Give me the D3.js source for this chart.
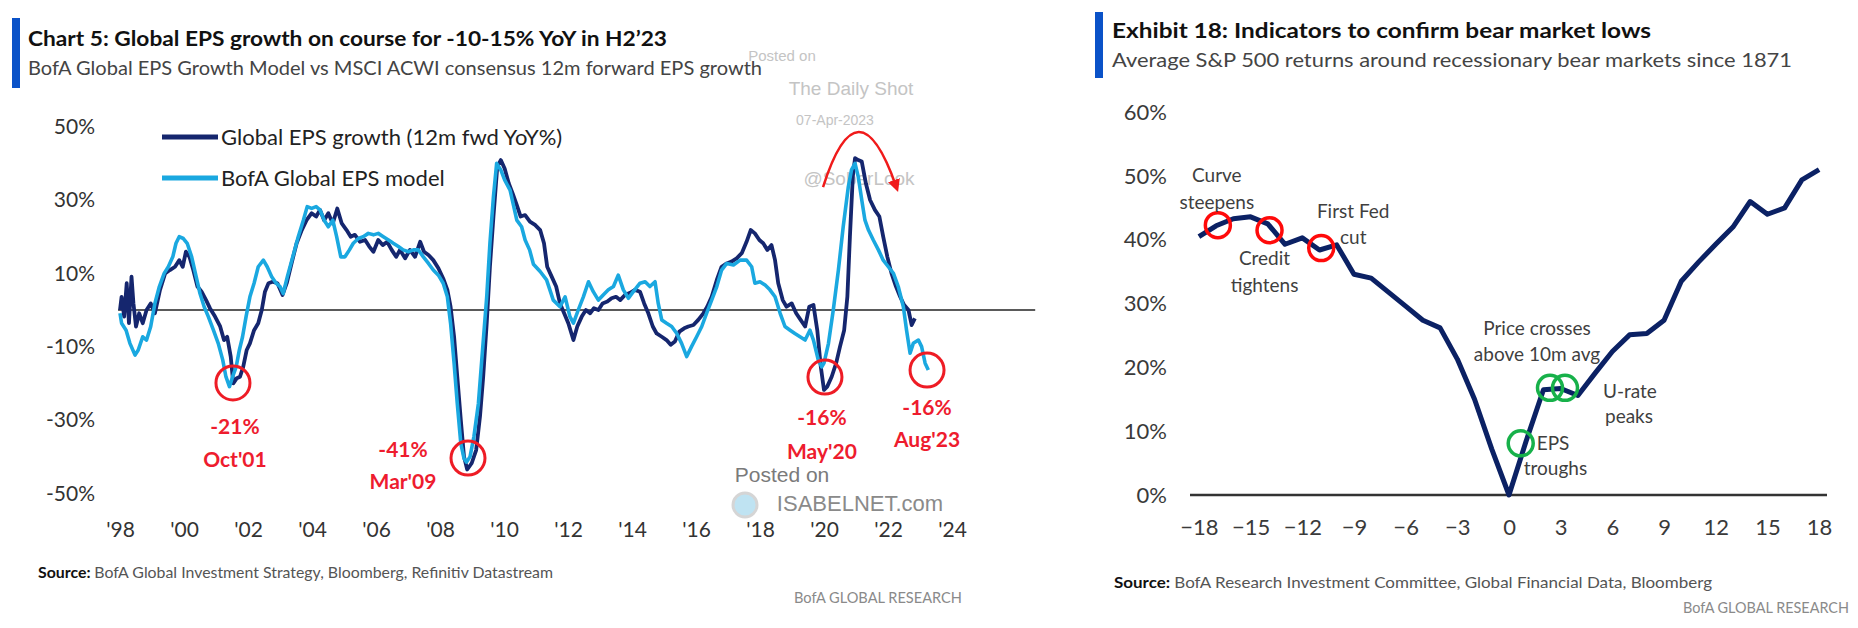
<!DOCTYPE html>
<html><head><meta charset="utf-8">
<script src="https://cdn.jsdelivr.net/npm/d3@7"></script>
<style>
html,body{margin:0;padding:0;background:#fff;}
svg{display:block;font-family:Lato,"Open Sans",sans-serif;}
</style></head><body>
<svg id="chart" width="1858" height="628"></svg>
<script>
// ---------------- LEFT CHART DATA ----------------
const epsDates = [1998.00,1998.05,1998.13,1998.21,1998.28,1998.36,1998.42,1998.50,1998.60,1998.71,1998.83,1998.96,1999.09,1999.25,1999.41,1999.56,1999.72,1999.85,1999.96,2000.06,2000.17,2000.29,2000.42,2000.55,2000.69,2000.81,2000.97,2001.13,2001.25,2001.35,2001.46,2001.54,2001.65,2001.75,2001.85,2001.96,2002.06,2002.19,2002.32,2002.43,2002.53,2002.64,2002.77,2002.92,2003.08,2003.21,2003.36,2003.52,2003.68,2003.83,2003.99,2004.13,2004.25,2004.38,2004.51,2004.65,2004.79,2004.93,2005.08,2005.21,2005.34,2005.50,2005.66,2005.79,2005.92,2006.07,2006.21,2006.35,2006.49,2006.63,2006.75,2006.91,2007.06,2007.22,2007.38,2007.50,2007.64,2007.79,2007.95,2008.10,2008.23,2008.33,2008.44,2008.54,2008.65,2008.75,2008.85,2008.99,2009.13,2009.25,2009.35,2009.46,2009.56,2009.67,2009.79,2009.90,2010.02,2010.15,2010.27,2010.40,2010.52,2010.66,2010.81,2010.97,2011.13,2011.25,2011.35,2011.49,2011.63,2011.75,2011.88,2012.01,2012.17,2012.29,2012.43,2012.56,2012.69,2012.81,2012.95,2013.08,2013.23,2013.36,2013.50,2013.63,2013.78,2013.94,2014.09,2014.25,2014.38,2014.51,2014.65,2014.77,2014.93,2015.08,2015.21,2015.34,2015.48,2015.63,2015.76,2015.92,2016.07,2016.23,2016.35,2016.49,2016.65,2016.80,2016.96,2017.11,2017.27,2017.43,2017.58,2017.71,2017.84,2017.98,2018.10,2018.23,2018.36,2018.47,2018.57,2018.71,2018.83,2018.99,2019.13,2019.27,2019.41,2019.54,2019.67,2019.79,2019.90,2020.00,2020.10,2020.24,2020.38,2020.50,2020.63,2020.73,2020.81,2020.90,2020.97,2021.07,2021.18,2021.31,2021.44,2021.59,2021.73,2021.85,2021.98,2022.11,2022.25,2022.38,2022.50,2022.64,2022.74,2022.84];
const epsValues = [0.0,3.6,-1.8,7.3,-3.6,9.1,1.8,-4.5,-0.9,-3.6,0.0,1.8,-0.9,5.5,10.0,10.9,11.8,13.6,11.8,15.9,14.5,10.9,6.4,5.0,2.7,0.5,-1.8,-4.5,-8.2,-7.3,-12.7,-20.0,-18.6,-18.2,-15.5,-10.9,-9.1,-5.5,-3.6,0.0,5.0,7.3,7.7,7.3,4.1,7.3,12.7,18.2,21.8,24.5,26.4,25.5,27.3,24.5,26.4,23.6,27.7,23.6,21.8,20.0,20.5,18.6,19.1,17.3,15.9,19.1,17.7,18.6,16.4,14.5,16.4,14.1,16.4,14.5,18.6,15.9,15.0,13.6,11.4,8.6,5.5,0.9,-7.3,-18.2,-30.0,-40.0,-43.5,-41.8,-38.2,-29.0,-18.2,-3.6,11.8,25.5,39.1,40.9,38.6,34.5,31.8,28.6,25.5,25.9,24.1,23.2,21.8,18.2,11.8,9.1,6.4,1.8,-0.9,-3.6,-8.2,-4.5,-1.8,0.0,-0.9,0.5,0.0,1.8,2.3,3.2,3.6,2.7,4.1,4.7,5.5,5.0,1.8,-0.9,-4.5,-6.4,-7.3,-8.2,-9.5,-8.6,-5.9,-5.0,-4.5,-4.1,-2.7,-0.9,0.9,3.6,8.2,11.8,12.7,13.2,14.1,15.5,18.6,21.8,20.9,19.1,18.2,16.4,17.7,13.6,7.3,2.7,0.9,1.8,-0.9,-2.7,-4.5,0.9,1.4,-5.5,-15.5,-21.8,-20.9,-18.2,-14.5,-10.0,-5.5,3.6,20.0,36.4,41.4,40.9,40.5,34.5,30.0,27.3,25.5,20.0,14.5,10.0,6.4,3.6,1.4,0.0,-4.1,-2.3];

const modelDates = [1998.00,1998.05,1998.19,1998.31,1998.47,1998.57,1998.71,1998.83,1998.96,1999.09,1999.23,1999.38,1999.51,1999.65,1999.75,1999.85,1999.98,2000.10,2000.24,2000.38,2000.50,2000.63,2000.76,2000.92,2001.07,2001.21,2001.31,2001.42,2001.52,2001.63,2001.73,2001.83,2001.94,2002.06,2002.19,2002.32,2002.48,2002.60,2002.74,2002.88,2003.00,2003.10,2003.23,2003.40,2003.57,2003.73,2003.85,2003.99,2004.13,2004.25,2004.38,2004.51,2004.65,2004.77,2004.90,2005.03,2005.17,2005.29,2005.45,2005.60,2005.76,2005.92,2006.07,2006.23,2006.39,2006.54,2006.70,2006.85,2007.01,2007.17,2007.32,2007.48,2007.64,2007.79,2007.95,2008.10,2008.23,2008.33,2008.44,2008.54,2008.65,2008.75,2008.83,2008.94,2009.06,2009.20,2009.33,2009.46,2009.56,2009.67,2009.77,2009.90,2010.02,2010.19,2010.40,2010.55,2010.66,2010.80,2010.92,2011.13,2011.33,2011.54,2011.75,2011.91,2012.06,2012.17,2012.32,2012.48,2012.64,2012.79,2012.95,2013.10,2013.26,2013.42,2013.57,2013.73,2013.89,2014.04,2014.25,2014.41,2014.56,2014.72,2014.82,2014.93,2015.08,2015.24,2015.40,2015.55,2015.71,2015.86,2016.02,2016.18,2016.33,2016.49,2016.65,2016.80,2016.96,2017.17,2017.38,2017.58,2017.74,2017.84,2018.00,2018.16,2018.31,2018.47,2018.63,2018.78,2018.94,2019.09,2019.25,2019.41,2019.56,2019.67,2019.82,2019.93,2020.00,2020.14,2020.29,2020.45,2020.60,2020.76,2020.86,2020.97,2021.07,2021.18,2021.28,2021.39,2021.54,2021.70,2021.85,2022.01,2022.17,2022.32,2022.48,2022.58,2022.69,2022.79,2022.95,2023.05,2023.16,2023.26];
const modelValues = [-0.9,-3.6,-5.5,-9.1,-12.3,-10.9,-7.3,-8.2,-4.5,1.8,6.4,10.0,11.8,14.5,18.2,20.0,19.5,18.2,14.5,9.1,4.5,0.9,-1.8,-5.5,-9.1,-13.6,-18.2,-20.9,-18.2,-15.5,-10.9,-7.3,-1.8,3.6,7.3,11.8,13.6,11.8,9.1,7.3,6.4,4.5,9.1,14.5,20.0,24.5,28.2,27.7,28.2,27.3,24.5,22.7,24.5,20.0,14.5,14.5,16.4,18.2,19.5,20.0,20.9,20.5,20.9,20.0,19.1,18.2,17.3,16.4,15.9,16.4,16.4,14.5,12.7,10.9,9.5,7.3,3.6,-3.6,-14.5,-25.5,-36.4,-40.5,-41.5,-40.0,-34.5,-25.5,-10.9,3.6,18.2,30.9,40.0,38.2,35.5,32.7,24.5,22.7,19.1,16.4,12.5,10.5,8.2,2.7,0.9,3.6,-1.8,-3.6,0.0,3.6,7.7,5.0,2.7,4.1,5.5,6.4,9.5,5.5,3.2,5.0,7.3,7.7,6.4,7.7,1.8,-2.7,-3.6,-4.5,-6.4,-9.1,-12.7,-10.0,-7.3,-4.5,-0.9,2.7,6.4,10.9,12.7,12.3,13.6,13.6,11.8,7.3,7.7,6.8,5.5,3.6,-0.9,-4.5,-5.5,-6.4,-7.3,-8.2,-5.5,-8.2,-13.6,-15.5,-14.5,-9.1,0.0,10.9,22.7,33.6,38.2,40.0,36.4,30.0,24.5,21.8,19.1,16.4,13.6,11.8,10.0,6.4,0.9,-5.5,-11.8,-9.1,-8.2,-10.0,-14.5,-16.4];

const leftYTicks = [50, 30, 10, -10, -30, -50];
const leftXTicks = [1998,2000,2002,2004,2006,2008,2010,2012,2014,2016,2018,2020,2022,2024];
const leftXLabels = ["'98","'00","'02","'04","'06","'08","'10","'12","'14","'16","'18","'20","'22","'24"];
const seriesNames = ["Global EPS growth (12m fwd YoY%)", "BofA Global EPS model"];
const troughDates = [2001.53, 2008.875, 2020.03, 2023.22];
const troughValues = [-19.9, -40.4, -18.3, -16.4];
const troughPct = ["-21%", "-41%", "-16%", "-16%"];
const troughMonth = ["Oct'01", "Mar'09", "May'20", "Aug'23"];

// ---------------- RIGHT CHART DATA ----------------
const months = [-18,-17,-16,-15,-14,-13,-12,-11,-10,-9,-8,-7,-6,-5,-4,-3,-2,-1,0,1,2,3,4,5,6,7,8,9,10,11,12,13,14,15,16,17,18];
const spxReturns = [40.5,42.2,43.3,43.6,42.5,39.3,40.3,38.4,39.2,34.6,34.0,31.8,29.6,27.4,26.2,21.3,15.0,7.2,0.0,8.5,16.5,16.7,15.6,19.1,22.5,25.1,25.3,27.4,33.5,36.5,39.3,42.0,46.0,44.0,45.0,49.4,51.0];
const rightYTicks = [0,10,20,30,40,50,60];
const rightXTicks = [-18,-15,-12,-9,-6,-3,0,3,6,9,12,15,18];
const redMarkMonths = [-16.9, -13.9, -10.9];
const redMarkValues = [42.3, 41.5, 38.7];
const greenMarkMonths = [0.68, 2.38, 3.25];
const greenMarkValues = [8.1, 16.8, 16.8];

// ---------------- DRAW ----------------
const svg = d3.select("#chart");
svg.append("rect").attr("width",1858).attr("height",628).attr("fill","#fff");

function fitText(sel, w){ sel.attr("textLength", w).attr("lengthAdjust","spacingAndGlyphs"); return sel; }

// Titles
svg.append("rect").attr("x",12).attr("y",18).attr("width",8).attr("height",70).attr("fill","#0a52c8");
fitText(svg.append("text").attr("x",28).attr("y",46).attr("font-size",21).attr("font-weight",700).attr("fill","#111")
  .text("Chart 5: Global EPS growth on course for -10-15% YoY in H2\u201923"), 639);
fitText(svg.append("text").attr("x",28).attr("y",75).attr("font-size",19).attr("fill","#444")
  .text("BofA Global EPS Growth Model vs MSCI ACWI consensus 12m forward EPS growth"), 734);

svg.append("rect").attr("x",1095).attr("y",12).attr("width",8).attr("height",66).attr("fill","#0a52c8");
fitText(svg.append("text").attr("x",1112).attr("y",38).attr("font-size",21).attr("font-weight",700).attr("fill","#111")
  .text("Exhibit 18: Indicators to confirm bear market lows"), 539);
fitText(svg.append("text").attr("x",1112).attr("y",67).attr("font-size",19).attr("fill","#444")
  .text("Average S&P 500 returns around recessionary bear markets since 1871"), 680);

// Watermarks (left)
const wm = svg.append("g").attr("font-family","'Liberation Sans',Arial,sans-serif").attr("fill","#c4c4c4").attr("text-anchor","middle");
wm.append("text").attr("x",782).attr("y",61).attr("font-size",15).text("Posted on");
wm.append("text").attr("x",851).attr("y",95).attr("font-size",19).text("The Daily Shot");
wm.append("text").attr("x",835).attr("y",125).attr("font-size",14).text("07-Apr-2023");
wm.append("text").attr("x",859).attr("y",185).attr("font-size",19).text("@SoberLook");

// LEFT scales
const xL = d3.scaleLinear().domain([1998, 2024]).range([120, 952]);
const yL = d3.scaleLinear().domain([-50, 50]).range([493.3, 126.7]);

const ax1 = svg.append("g").attr("transform","translate(95,0)")
  .call(d3.axisLeft(yL).tickValues(leftYTicks).tickSize(0).tickPadding(0).tickFormat(d=>d+"%"));
ax1.select(".domain").remove();
ax1.selectAll("text").attr("font-size",21).attr("fill","#333").attr("font-family","Lato,sans-serif");

const ax2 = svg.append("g").attr("transform","translate(0,522)")
  .call(d3.axisBottom(xL).tickValues(leftXTicks).tickSize(0).tickPadding(0).tickFormat((d,i)=>leftXLabels[i]));
ax2.select(".domain").remove();
ax2.selectAll("text").attr("font-size",21).attr("fill","#333").attr("font-family","Lato,sans-serif");

// zero line
svg.append("line").attr("x1",xL(1997.94)).attr("x2",xL(2026.6)).attr("y1",yL(0)).attr("y2",yL(0))
  .attr("stroke","#5a5a5a").attr("stroke-width",2);

const epsData = epsDates.map((t,i)=>({t, v: epsValues[i]}));
const modelData = modelDates.map((t,i)=>({t, v: modelValues[i]}));
const lineL = d3.line().x(d=>xL(d.t)).y(d=>yL(d.v));
const darkC = "#15266e", lightC = "#1aa8e0";
svg.append("path").datum(epsData).attr("d",lineL).attr("fill","none").attr("stroke",darkC).attr("stroke-width",3.8).attr("stroke-linejoin","round");
svg.append("path").datum(modelData).attr("d",lineL).attr("fill","none").attr("stroke",lightC).attr("stroke-width",3.6).attr("stroke-linejoin","round");

// legend
const lg = svg.append("g");
[darkC, lightC].forEach((c,i)=>{
  const yy = 137 + i*41;
  lg.append("line").attr("x1",162).attr("x2",218).attr("y1",yy).attr("y2",yy).attr("stroke",c).attr("stroke-width",5);
  lg.append("text").attr("x",221).attr("y",yy).attr("dy","0.35em").attr("font-size",22).attr("fill","#222").text(seriesNames[i]);
});

// trough circles & labels
const labOff = [[2,44,77],[-65,-8,24],[-3,41,75],[0,38,70]];
troughDates.forEach((t,i)=>{
  const cx = xL(t), cy = yL(troughValues[i]);
  svg.append("circle").attr("cx",cx).attr("cy",cy).attr("r",17).attr("fill","none").attr("stroke","#ee1c25").attr("stroke-width",3);
  const g = svg.append("g").attr("fill","#ee1c2e").attr("font-weight",700).attr("font-size",21).attr("text-anchor","middle");
  g.append("text").attr("x",cx+labOff[i][0]).attr("y",cy+labOff[i][1]).attr("dy","0.35em").text(troughPct[i]);
  g.append("text").attr("x",cx+labOff[i][0]).attr("y",cy+labOff[i][2]).attr("dy","0.35em").text(troughMonth[i]);
});

// red arrow over 2021 peak
const arrowPts = [[2019.97,33.5],[2021.06,63.4],[2022.25,33.8]];
svg.append("defs").append("marker").attr("id","ah").attr("viewBox","0 0 10 10").attr("refX",5).attr("refY",5)
  .attr("markerWidth",5).attr("markerHeight",5).attr("orient","auto")
  .append("path").attr("d","M0,0 L10,5 L0,10 z").attr("fill","#f01a1a");
svg.append("path")
  .attr("d",`M${xL(arrowPts[0][0])},${yL(arrowPts[0][1])} Q${xL(arrowPts[1][0])},${yL(arrowPts[1][1])} ${xL(arrowPts[2][0])},${yL(arrowPts[2][1])}`)
  .attr("fill","none").attr("stroke","#f01a1a").attr("stroke-width",2.5).attr("marker-end","url(#ah)");

// bottom watermark
const wm2 = svg.append("g").attr("font-family","'Liberation Sans',Arial,sans-serif").attr("text-anchor","middle");
wm2.append("text").attr("x",782).attr("y",482).attr("font-size",21).attr("fill","#7a7a7a").text("Posted on");
wm2.append("circle").attr("cx",745).attr("cy",505).attr("r",12).attr("fill","#bfe3f2").attr("stroke","#d5d5d5").attr("stroke-width",3);
wm2.append("text").attr("x",860).attr("y",511).attr("font-size",22).attr("fill","#8a8a8a").text("ISABELNET.com");

// source lines
const s1 = svg.append("text").attr("x",38).attr("y",578).attr("font-size",15).attr("fill","#555");
s1.append("tspan").attr("font-weight",700).attr("fill","#111").text("Source: ");
s1.append("tspan").text("BofA Global Investment Strategy, Bloomberg, Refinitiv Datastream");
fitText(s1, 515);
fitText(svg.append("text").attr("x",794).attr("y",603).attr("font-size",15).attr("fill","#8a8a8a").text("BofA GLOBAL RESEARCH"),168);

// RIGHT scales
const xR = d3.scaleLinear().domain([-18, 18]).range([1198.9, 1819.1]);
const yR = d3.scaleLinear().domain([0, 60]).range([495, 112.2]);

const ax3 = svg.append("g").attr("transform","translate(1167,0)")
  .call(d3.axisLeft(yR).tickValues(rightYTicks).tickSize(0).tickPadding(0).tickFormat(d=>d+"%"));
ax3.select(".domain").remove();
ax3.selectAll("text").attr("font-size",22).attr("fill","#3a3a3a").attr("font-family","Lato,sans-serif");

const ax4 = svg.append("g").attr("transform","translate(0,519)")
  .call(d3.axisBottom(xR).tickValues(rightXTicks).tickSize(0).tickPadding(0));
ax4.select(".domain").remove();
ax4.selectAll("text").attr("font-size",22).attr("fill","#3a3a3a").attr("font-family","Lato,sans-serif");

svg.append("line").attr("x1",1190).attr("x2",1827).attr("y1",yR(0)).attr("y2",yR(0)).attr("stroke","#333").attr("stroke-width",2.5);

const spxData = months.map((m,i)=>({m, v: spxReturns[i]}));
svg.append("path").datum(spxData).attr("d", d3.line().x(d=>xR(d.m)).y(d=>yR(d.v)))
  .attr("fill","none").attr("stroke","#0b2164").attr("stroke-width",5).attr("stroke-linejoin","round");

redMarkMonths.forEach((m,i)=>{
  svg.append("circle").attr("cx",xR(m)).attr("cy",yR(redMarkValues[i])).attr("r",12.5).attr("fill","none").attr("stroke","#ff0a0a").attr("stroke-width",3.5);
});
greenMarkMonths.forEach((m,i)=>{
  svg.append("circle").attr("cx",xR(m)).attr("cy",yR(greenMarkValues[i])).attr("r",12.5).attr("fill","none").attr("stroke","#17b14a").attr("stroke-width",3.5);
});

// right annotations (positioned relative to the marks)
const ann = svg.append("g").attr("font-size",19).attr("fill","#3f3f3f");
function annText(x,y,t,anchor){ ann.append("text").attr("x",x).attr("y",y).attr("dy","0.35em").attr("text-anchor",anchor||"middle").text(t); }
annText(xR(redMarkMonths[0])-1, yR(redMarkValues[0])-50, "Curve");
annText(xR(redMarkMonths[0])-1, yR(redMarkValues[0])-23, "steepens");
annText(xR(redMarkMonths[1])-5, yR(redMarkValues[1])+28, "Credit");
annText(xR(redMarkMonths[1])-5, yR(redMarkValues[1])+55, "tightens");
annText(xR(redMarkMonths[2])+32, yR(redMarkValues[2])-37, "First Fed");
annText(xR(redMarkMonths[2])+32, yR(redMarkValues[2])-11, "cut");
annText(xR(greenMarkMonths[1])-13, yR(greenMarkValues[1])-59, "Price crosses");
annText(xR(greenMarkMonths[1])-13, yR(greenMarkValues[1])-33, "above 10m avg");
annText(xR(greenMarkMonths[0])+16, yR(greenMarkValues[0]), "EPS", "start");
annText(xR(greenMarkMonths[0])+3, yR(greenMarkValues[0])+25, "troughs", "start");
annText(xR(greenMarkMonths[2])+38, yR(greenMarkValues[2])+4, "U-rate", "start");
annText(xR(greenMarkMonths[2])+40, yR(greenMarkValues[2])+29, "peaks", "start");

const s2 = svg.append("text").attr("x",1114).attr("y",588).attr("font-size",15).attr("fill","#555");
s2.append("tspan").attr("font-weight",700).attr("fill","#111").text("Source: ");
s2.append("tspan").text("BofA Research Investment Committee, Global Financial Data, Bloomberg");
fitText(s2, 598);
fitText(svg.append("text").attr("x",1683).attr("y",613).attr("font-size",15).attr("fill","#8a8a8a").text("BofA GLOBAL RESEARCH"),166);
</script>
</body></html>
